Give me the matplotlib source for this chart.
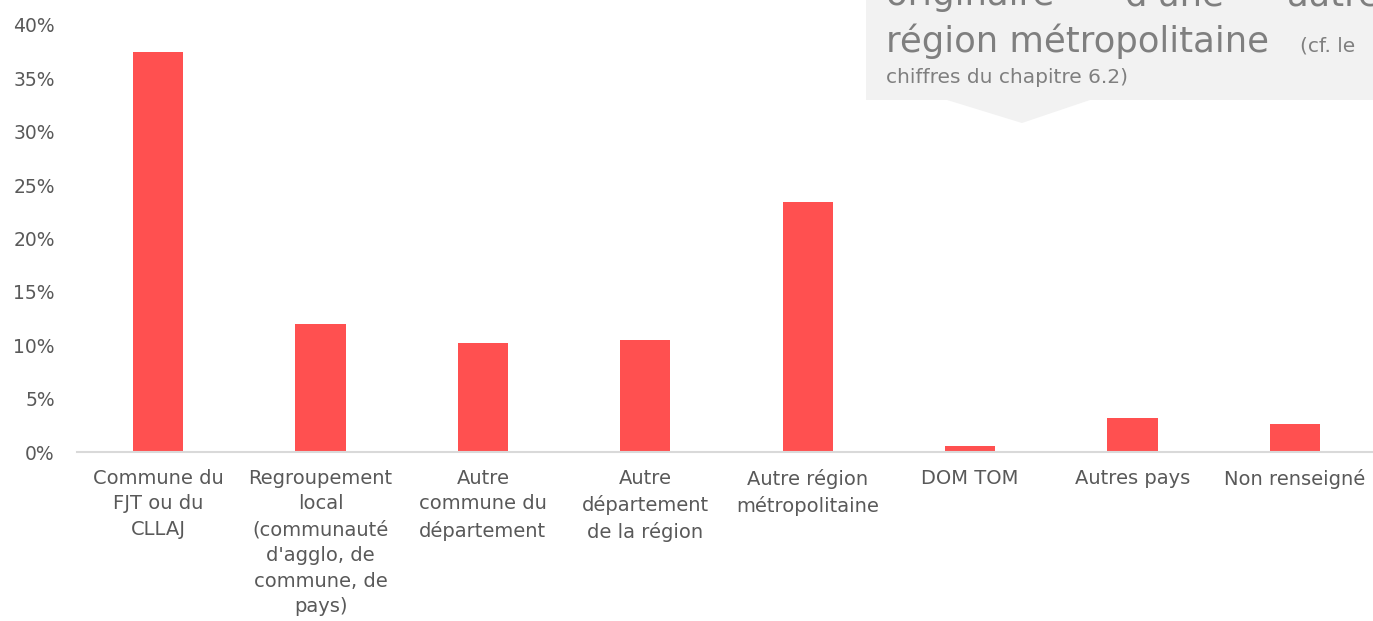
import matplotlib.pyplot as plt
from matplotlib.patches import Polygon
from matplotlib.ticker import FuncFormatter

plt.rcParams['font.family'] = ['DejaVu Sans']

categories = [
    "Commune du\nFJT ou du\nCLLAJ",
    "Regroupement\nlocal\n(communauté\nd'agglo, de\ncommune, de\npays)",
    "Autre\ncommune du\ndépartement",
    "Autre\ndépartement\nde la région",
    "Autre région\nmétropolitaine",
    "DOM TOM",
    "Autres pays",
    "Non renseigné",
]
shares = [37.5, 12.0, 10.2, 10.5, 23.4, 0.6, 3.2, 2.6]

bar_color = '#ff5050'
text_color = '#595959'

W, H = 1373, 621
fig = plt.figure(figsize=(W / 100, H / 100), dpi=100)
ax = fig.add_axes([77 / W, (H - 452) / H, 1299 / W, 427 / H])

x = range(len(categories))
ax.bar(x, shares, width=0.31, color=bar_color)
ax.set_xlim(-0.5, len(categories) - 0.5)
ax.set_ylim(0, 40)
ax.set_yticks(range(0, 41, 5))
ax.yaxis.set_major_formatter(FuncFormatter(lambda v, _: f'{v:.0f}%'))
ax.set_xticks(list(x))
ax.set_xticklabels(categories, linespacing=1.45)
ax.tick_params(axis='x', length=0, pad=12, labelsize=14, labelcolor=text_color)
ax.tick_params(axis='y', length=0, pad=16, labelsize=13.5, labelcolor=text_color)
for s in ['top', 'right', 'left']:
    ax.spines[s].set_visible(False)
ax.spines['bottom'].set_color('#d9d9d9')
ax.spines['bottom'].set_linewidth(1.5)

# callout box in the top right corner
def px(xp, yp):
    return (xp / W, 1 - yp / H)

box = Polygon([px(866, -5), px(1380, -5), px(1380, 100), px(1090, 100),
               px(1022, 123), px(947, 100), px(866, 100)],
              closed=True, transform=fig.transFigure, facecolor='#f2f2f2',
              edgecolor='none', zorder=0)
fig.patches.append(box)

note_color = '#7f7f7f'
for word, xp in [("originaire", 886), ("d'une", 1125), ("autre", 1287)]:
    fig.text(*px(xp, 5), word, fontsize=25.5, color=note_color, va='baseline')
fig.text(*px(886, 52), "région métropolitaine", fontsize=25.5, color=note_color, va='baseline')
fig.text(*px(1300, 52), "(cf. le", fontsize=14.5, color=note_color, va='baseline')
fig.text(*px(886, 83), "chiffres du chapitre 6.2)", fontsize=14.5, color=note_color, va='baseline')

fig.savefig('out.png', dpi=100)
